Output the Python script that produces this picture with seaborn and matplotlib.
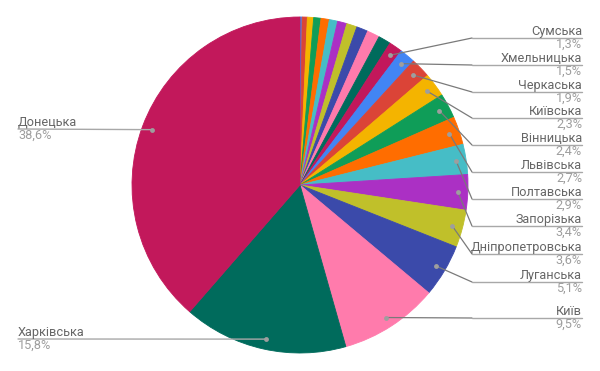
import matplotlib
matplotlib.use("Agg")
import matplotlib.pyplot as plt
import seaborn as sns
import numpy as np

# ---- data (clockwise from 12 o'clock) ----
regions = ["Чернівецька", "Тернопільська", "Волинська", "Закарпатська", "Рівненська",
           "Кіровоградська", "Івано-Франківська", "Житомирська", "Чернігівська",
           "Херсонська", "Миколаївська",
           "Сумська", "Хмельницька", "Черкаська", "Київська", "Вінницька", "Львівська",
           "Полтавська", "Запорізька", "Дніпропетровська", "Луганська", "Київ",
           "Харківська", "Донецька"]
shares = [0.2, 0.5, 0.6, 0.7, 0.8, 0.8, 0.9, 1.0, 1.1, 1.2, 1.2,
          1.3, 1.5, 1.9, 2.3, 2.4, 2.7, 2.9, 3.4, 3.6, 5.1, 9.5, 15.8, 38.6]
labelled_right = ["Сумська", "Хмельницька", "Черкаська", "Київська", "Вінницька",
                  "Львівська", "Полтавська", "Запорізька", "Дніпропетровська",
                  "Луганська", "Київ"]
labelled_left = ["Донецька", "Харківська"]

palette_hex = ["#4285f4", "#db4437", "#f4b400", "#0f9d58", "#ff6d00", "#46bdc6",
               "#ab30c4", "#c0c02a", "#3b4aaa", "#ff7bac", "#006b5c", "#c2185b"]

# ---- layout (pixels) ----
W, H = 600, 371
cx, cy, R = 300, 185, 168
right_label_y = [38, 65, 92, 118, 145, 172, 199, 226, 254, 282, 318]
left_label_y = [129, 339]
knee_x, right_x, left_x = 472, 582, 18

sns.set_theme(style="white")
plt.rcParams["font.family"] = ["Roboto", "DejaVu Sans"]

colors = sns.color_palette(palette_hex, n_colors=len(shares))

fig = plt.figure(figsize=(W / 100, H / 100), dpi=100)
ax = fig.add_axes([0, 0, 1, 1])
wedges, _ = ax.pie(shares, colors=colors, startangle=90, counterclock=False,
                   center=(cx, H - cy), radius=R, wedgeprops=dict(linewidth=0.6))
for w in wedges:
    w.set_edgecolor(w.get_facecolor())
ax.set_xlim(0, W)
ax.set_ylim(0, H)
ax.set_aspect("auto")
ax.axis("off")

name_col, pct_col = "#666666", "#9e9e9e"
line_col, slant_col = "#a8a8a8", "#7a7a7a"
fs = 9.2


def fmt(v):
    return f"{v:.1f}".replace(".", ",") + "%"


def dot_pos(name):
    i = regions.index(name)
    w = wedges[i]
    th = np.deg2rad((w.theta1 + w.theta2) / 2)
    r = 0.94 * R
    return cx + r * np.cos(th), (H - cy) + r * np.sin(th), shares[i]


for name, ly in zip(labelled_right, right_label_y):
    px, py, v = dot_pos(name)
    yl = H - ly
    ax.plot([px, knee_x], [py, yl], color=slant_col, lw=0.9, zorder=3)
    ax.plot([knee_x, right_x], [yl, yl], color=line_col, lw=1.0, zorder=3)
    ax.plot([px], [py], "o", ms=3.5, color="#9e9e9e", mec="none", zorder=4)
    ax.text(right_x, yl + 3, name, ha="right", va="baseline", fontsize=fs, color=name_col)
    ax.text(right_x, yl - 9.5, fmt(v), ha="right", va="baseline", fontsize=fs, color=pct_col)

for name, ly in zip(labelled_left, left_label_y):
    px, py, v = dot_pos(name)
    yl = H - ly
    ax.plot([left_x, px], [yl, py], color=line_col, lw=1.0, zorder=3)
    ax.plot([px], [py], "o", ms=3.5, color="#9e9e9e", mec="none", zorder=4)
    ax.text(left_x, yl + 3, name, ha="left", va="baseline", fontsize=fs, color=name_col)
    ax.text(left_x, yl - 9.5, fmt(v), ha="left", va="baseline", fontsize=fs, color=pct_col)

fig.savefig("out.png", dpi=100, facecolor="white")
